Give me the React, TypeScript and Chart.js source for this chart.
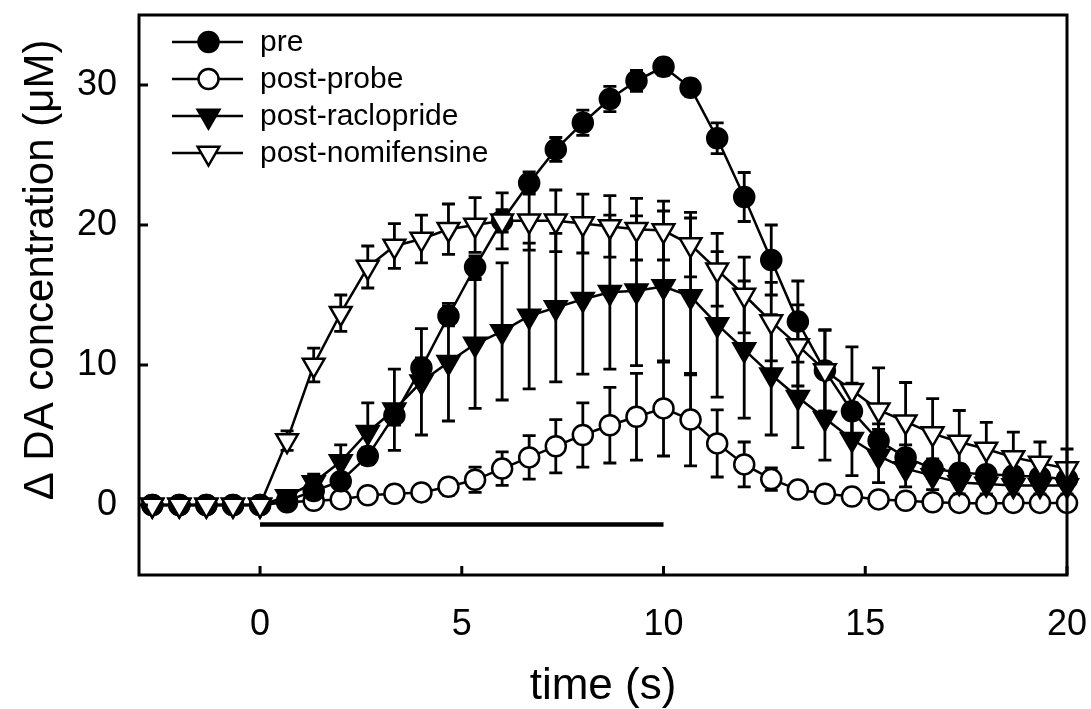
import React, { useEffect, useRef } from 'react';
import { Chart, registerables } from 'chart.js';

Chart.register(...registerables);

// ---------- data ----------
const timeS = [
  -2.67, -2, -1.33, -0.67, 0, 0.67, 1.33, 2, 2.67, 3.33, 4, 4.67, 5.33, 6, 6.67, 7.33, 8, 8.67,
  9.33, 10, 10.67, 11.33, 12, 12.67, 13.33, 14, 14.67, 15.33, 16, 16.67, 17.33, 18, 18.67, 19.33, 20,
];

const preMean = [
  0, 0, 0, 0, 0, 0.3, 1.0, 1.7, 3.5, 6.4, 9.8, 13.5, 17.0, 20.3, 23.0, 25.4, 27.3, 29.0,
  30.3, 31.3, 29.8, 26.2, 22.0, 17.5, 13.1, 9.6, 6.7, 4.6, 3.4, 2.6, 2.3, 2.2, 2.1, 2.0, 1.85,
];
const preErr = [
  0.3, 0.3, 0.3, 0.3, 0.3, 0.3, 0.4, 0.5, 0.6, 0.7, 0.7, 0.7, 0.8, 0.8, 0.8, 0.85, 0.9, 0.9,
  0.75, 0.6, 0.6, 1.1, 1.75, 2.5, 2.9, 2.9, 2.0, 1.2, 0.9, 0.7, 0.6, 0.5, 0.5, 0.5, 0.5,
];

const probeMean = [
  0, 0, 0, 0, 0, 0.2, 0.3, 0.4, 0.7, 0.8, 0.9, 1.3, 1.8, 2.6, 3.4, 4.2, 5.0, 5.7,
  6.3, 6.9, 6.1, 4.4, 2.9, 1.85, 1.1, 0.8, 0.6, 0.4, 0.3, 0.2, 0.15, 0.1, 0.15, 0.15, 0.15,
];
const probeErr = [
  0.2, 0.2, 0.2, 0.2, 0.2, 0.2, 0.3, 0.3, 0.3, 0.4, 0.4, 0.6, 0.9, 1.2, 1.55, 1.9, 2.3, 2.7,
  3.1, 3.4, 3.3, 2.4, 1.6, 0.8, 0.5, 0.3, 0.3, 0.3, 0.3, 0.3, 0.3, 0.3, 0.3, 0.3, 0.3,
];

const racloprideMean = [
  0, 0, 0, 0, 0, 0.6, 1.6, 3.1, 5.2, 6.8, 8.8, 10.2, 11.5, 12.4, 13.5, 14.1, 14.7, 15.2,
  15.3, 15.6, 14.9, 12.9, 11.1, 9.3, 7.7, 6.2, 4.7, 3.5, 2.6, 2.1, 1.6, 1.5, 1.4, 1.4, 1.4,
];
const racloprideErr = [
  0.2, 0.2, 0.2, 0.2, 0.2, 0.4, 0.6, 1.2, 2.1, 2.9, 3.8, 4.2, 4.6, 4.9, 5.2, 5.3, 5.35, 5.5,
  5.35, 5.4, 5.6, 5.2, 4.9, 4.3, 3.6, 3.0, 2.6, 1.9, 1.3, 1.0, 0.8, 0.7, 0.6, 0.6, 0.6,
];

const nomifensineMean = [
  0, 0, 0, 0, 0, 4.6, 10.0, 13.7, 17.0, 18.5, 19.0, 19.7, 20.0, 20.3, 20.3, 20.3, 20.1, 19.9,
  19.7, 19.6, 18.6, 16.8, 15.0, 13.1, 11.4, 9.6, 8.2, 6.8, 5.95, 5.1, 4.5, 4.0, 3.4, 3.0, 2.6,
];
const nomifensineErr = [
  0.2, 0.2, 0.2, 0.2, 0.2, 0.7, 1.2, 1.3, 1.5, 1.6, 1.7, 1.8, 1.95, 2.0, 2.1, 2.2, 2.1, 2.2,
  2.2, 2.1, 2.3, 2.6, 2.7, 2.8, 2.9, 2.9, 3.1, 3.0, 2.8, 2.5, 2.25, 1.9, 1.8, 1.5, 1.4,
];

const seriesLabels = ['pre', 'post-probe', 'post-raclopride', 'post-nomifensine'];

const stimBarX = [0, 10];
const stimBarY = -1.4;

const xTicks = [0, 5, 10, 15, 20];
const xTickLabels = ['0', '5', '10', '15', '20'];
const yTicks = [0, 10, 20, 30];
const yTickLabels = ['0', '10', '20', '30'];

const xTitle = 'time (s)';
const yTitle = 'Δ DA concentration (μM)';

// ---------- styling ----------
const FONT = '"Liberation Sans", Arial, Helvetica, sans-serif';

type MarkerStyle = { shape: 'circle' | 'triangleDown'; filled: boolean };
const markerStyles: MarkerStyle[] = [
  { shape: 'circle', filled: true },
  { shape: 'circle', filled: false },
  { shape: 'triangleDown', filled: true },
  { shape: 'triangleDown', filled: false },
];

const CIRCLE_R = 10;
const TRI_R = 12.5;

function drawMarker(ctx: CanvasRenderingContext2D, m: MarkerStyle, x: number, y: number) {
  ctx.beginPath();
  if (m.shape === 'circle') {
    ctx.arc(x, y, CIRCLE_R, 0, Math.PI * 2);
  } else {
    for (let k = 0; k < 3; k++) {
      const a = Math.PI + (k * 2 * Math.PI) / 3;
      const px = x + Math.sin(a) * TRI_R;
      const py = y - Math.cos(a) * TRI_R;
      if (k === 0) ctx.moveTo(px, py);
      else ctx.lineTo(px, py);
    }
    ctx.closePath();
  }
  ctx.fillStyle = m.filled ? '#000' : '#fff';
  ctx.fill();
  ctx.lineWidth = 2.5;
  ctx.strokeStyle = '#000';
  ctx.stroke();
}

const errorBarPlugin = {
  id: 'errorBars',
  beforeDatasetDraw(chart: any, args: any) {
    const ds = chart.data.datasets[args.index];
    if (!ds.errors) return;
    const yScale = chart.scales.y;
    const ctx = chart.ctx as CanvasRenderingContext2D;
    ctx.save();
    ctx.strokeStyle = '#000';
    ctx.lineWidth = 2.8;
    ctx.lineCap = 'butt';
    args.meta.data.forEach((pt: any, i: number) => {
      const e = ds.errors[i];
      if (!e) return;
      const v = ds.data[i].y;
      const yTop = yScale.getPixelForValue(v + e);
      const yBot = yScale.getPixelForValue(v - e);
      const x = pt.x;
      ctx.beginPath();
      ctx.moveTo(x, yTop);
      ctx.lineTo(x, yBot);
      ctx.moveTo(x - 6.5, yTop);
      ctx.lineTo(x + 6.5, yTop);
      ctx.moveTo(x - 6.5, yBot);
      ctx.lineTo(x + 6.5, yBot);
      ctx.stroke();
    });
    ctx.restore();
  },
};

const framePlugin = {
  id: 'frameAndTicks',
  afterDatasetsDraw(chart: any) {
    const { left, right, top, bottom } = chart.chartArea;
    const ctx = chart.ctx as CanvasRenderingContext2D;
    const xs = chart.scales.x;
    const ys = chart.scales.y;
    ctx.save();
    ctx.strokeStyle = '#000';
    ctx.lineWidth = 3;
    ctx.strokeRect(left, top, right - left, bottom - top);
    ctx.beginPath();
    xTicks.forEach((v) => {
      const x = xs.getPixelForValue(v);
      ctx.moveTo(x, bottom);
      ctx.lineTo(x, bottom - 9);
    });
    yTicks.forEach((v) => {
      const y = ys.getPixelForValue(v);
      ctx.moveTo(left, y);
      ctx.lineTo(left + 9, y);
    });
    ctx.stroke();
    ctx.restore();
  },
};

const yTitlePlugin = {
  id: 'yTitle',
  afterDraw(chart: any) {
    const ctx = chart.ctx as CanvasRenderingContext2D;
    ctx.save();
    ctx.translate(41, 270);
    ctx.rotate(-Math.PI / 2);
    ctx.font = `42px ${FONT}`;
    ctx.fillStyle = '#000';
    ctx.textAlign = 'center';
    ctx.textBaseline = 'middle';
    ctx.fillText(yTitle, 0, 0);
    ctx.restore();
  },
};

const legendPlugin = {
  id: 'customLegend',
  afterDraw(chart: any) {
    const ctx = chart.ctx as CanvasRenderingContext2D;
    const { left, top } = chart.chartArea;
    ctx.save();
    seriesLabels.forEach((label, i) => {
      const y = top + 27 + i * 37;
      const x0 = left + 33;
      const x1 = left + 104;
      ctx.beginPath();
      ctx.moveTo(x0, y);
      ctx.lineTo(x1, y);
      ctx.strokeStyle = '#000';
      ctx.lineWidth = 2.5;
      ctx.stroke();
      drawMarker(ctx, markerStyles[i], (x0 + x1) / 2 + 1, y);
      ctx.fillStyle = '#000';
      ctx.font = `30px ${FONT}`;
      ctx.textAlign = 'left';
      ctx.textBaseline = 'middle';
      ctx.fillText(label, left + 121, y + 1);
    });
    ctx.restore();
  },
};

function makeSeries(label: string, means: number[], errs: number[], m: MarkerStyle, order: number) {
  return {
    label,
    data: timeS.map((t, i) => ({ x: t, y: means[i] })),
    errors: errs,
    borderColor: '#000',
    borderWidth: 2.5,
    backgroundColor: m.filled ? '#000' : '#fff',
    pointBackgroundColor: m.filled ? '#000' : '#fff',
    pointBorderColor: '#000',
    pointBorderWidth: 2.5,
    pointStyle: m.shape === 'circle' ? 'circle' : 'triangle',
    pointRotation: m.shape === 'circle' ? 0 : 180,
    pointRadius: m.shape === 'circle' ? CIRCLE_R : TRI_R,
    pointHoverRadius: m.shape === 'circle' ? CIRCLE_R : TRI_R,
    tension: 0,
    fill: false,
    clip: false as any,
    order,
  };
}

function zeroPadding(s: any) {
  s.paddingTop = 0;
  s.paddingBottom = 0;
  s.paddingLeft = 0;
  s.paddingRight = 0;
}

export default function App() {
  const canvasRef = useRef<HTMLCanvasElement | null>(null);

  useEffect(() => {
    if (!canvasRef.current) return;
    const datasets: any[] = [
      makeSeries(seriesLabels[0], preMean, preErr, markerStyles[0], 3),
      makeSeries(seriesLabels[1], probeMean, probeErr, markerStyles[1], 4),
      makeSeries(seriesLabels[2], racloprideMean, racloprideErr, markerStyles[2], 2),
      makeSeries(seriesLabels[3], nomifensineMean, nomifensineErr, markerStyles[3], 1),
      {
        label: 'stimulation',
        data: stimBarX.map((x) => ({ x, y: stimBarY })),
        borderColor: '#000',
        borderWidth: 4.5,
        pointRadius: 0,
        pointHoverRadius: 0,
        fill: false,
        order: 5,
      },
    ];

    const chart = new Chart(canvasRef.current, {
      type: 'line',
      data: { datasets },
      options: {
        animation: false,
        responsive: true,
        maintainAspectRatio: false,
        layout: { padding: { top: 15, right: 24, bottom: 0, left: 0 } },
        plugins: {
          legend: { display: false },
          tooltip: { enabled: false },
        },
        events: [],
        scales: {
          x: {
            type: 'linear',
            min: -3,
            max: 20,
            grid: { display: false },
            border: { display: false },
            afterBuildTicks: (s: any) => {
              s.ticks = xTicks.map((v) => ({ value: v }));
            },
            afterFit: (s: any) => {
              s.height = 134;
              zeroPadding(s);
            },
            ticks: {
              autoSkip: false,
              maxRotation: 0,
              color: '#000',
              padding: 20,
              font: { family: FONT, size: 36 },
              callback: (v: any) => xTickLabels[xTicks.indexOf(Number(v))] ?? '',
            },
            title: {
              display: true,
              text: xTitle,
              color: '#000',
              font: { family: FONT, size: 44, lineHeight: 1 },
              padding: { top: 0, bottom: 0 },
            },
          },
          y: {
            type: 'linear',
            min: -5,
            max: 35,
            grid: { display: false },
            border: { display: false },
            afterBuildTicks: (s: any) => {
              s.ticks = yTicks.map((v) => ({ value: v }));
            },
            afterFit: (s: any) => {
              s.width = 139;
              zeroPadding(s);
            },
            ticks: {
              autoSkip: false,
              color: '#000',
              padding: 14,
              font: { family: FONT, size: 36 },
              callback: (v: any) => yTickLabels[yTicks.indexOf(Number(v))] ?? '',
            },
            title: { display: false },
          },
        },
      },
      plugins: [errorBarPlugin, framePlugin, legendPlugin, yTitlePlugin],
    } as any);

    return () => chart.destroy();
  }, []);

  return (
    <div style={{ position: 'fixed', left: 0, top: 0, width: 1091, height: 709, background: '#fff' }}>
      <canvas ref={canvasRef} />
    </div>
  );
}
